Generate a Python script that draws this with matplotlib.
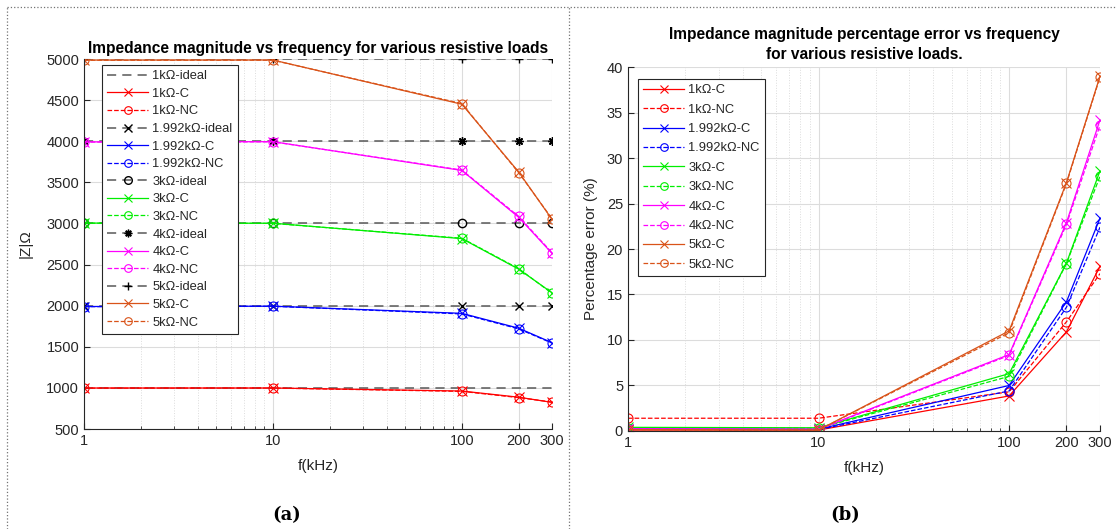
import numpy as np
import matplotlib.pyplot as plt
from matplotlib.lines import Line2D
from matplotlib.ticker import FixedLocator, NullFormatter, LogLocator

plt.rcParams['font.family'] = ['Liberation Sans', 'DejaVu Sans']

freq = [1, 10, 100, 200, 300]  # kHz

# measured |Z| (ohm), C = compensated, NC = not compensated
loads = ['1k', '1.992k', '3k', '4k', '5k']
ideal = [1000, 1992, 3000, 4000, 5000]
z1_c = [999, 999, 962, 887, 824]
z1_nc = [997, 998, 958, 882, 828]
z2_c = [1990, 1994, 1907, 1726, 1550]
z2_nc = [1988, 1993, 1900, 1718, 1545]
z3_c = [3005, 3003, 2816, 2444, 2157]
z3_nc = [3003, 3001, 2820, 2450, 2150]
z4_c = [3992, 3995, 3645, 3074, 2636]
z4_nc = [3990, 3993, 3650, 3085, 2645]
z5_c = [4987, 4988, 4450, 3625, 3050]
z5_nc = [4985, 4986, 4458, 3617, 3057]

# percentage error (%)
e1_c = [0.1, 0.1, 3.85, 10.9, 18.1]
e1_nc = [1.4, 1.4, 4.3, 12.0, 17.3]
e2_c = [0.25, 0.2, 5.0, 14.2, 23.4]
e2_nc = [0.2, 0.15, 4.4, 13.6, 22.4]
e3_c = [0.4, 0.35, 6.3, 18.45, 28.6]
e3_nc = [0.35, 0.3, 6.0, 18.4, 28.0]
e4_c = [0.25, 0.2, 8.4, 22.9, 34.2]
e4_nc = [0.2, 0.15, 8.3, 22.7, 33.6]
e5_c = [0.15, 0.1, 11.0, 27.3, 39.0]
e5_nc = [0.15, 0.1, 10.8, 27.2, 38.9]

z_c = [z1_c, z2_c, z3_c, z4_c, z5_c]
z_nc = [z1_nc, z2_nc, z3_nc, z4_nc, z5_nc]
e_c = [e1_c, e2_c, e3_c, e4_c, e5_c]
e_nc = [e1_nc, e2_nc, e3_nc, e4_nc, e5_nc]

colors = ['#FF0000', '#0000FF', '#00EE00', '#FF00FF', '#D95319']
ideal_markers = ['None', 'x', 'o', (8, 2, 0), '+']
txt = '#262626'

fig = plt.figure(figsize=(11.17, 5.29), dpi=100)
ax1 = fig.add_axes([0.0752, 0.189, 0.419, 0.6994])
ax2 = fig.add_axes([0.5622, 0.1853, 0.4226, 0.688])

mk = dict(markersize=6.5, markerfacecolor='none', markeredgewidth=0.8)

# (a) impedance magnitude
for i in range(5):
    ax1.plot(freq, [ideal[i]] * len(freq), '--', color='0.35', lw=1.1,
             marker=ideal_markers[i], markeredgecolor='k', markersize=6,
             markerfacecolor='none', dashes=(6, 4), label=loads[i] + 'Ω-ideal')
    ax1.plot(freq, z_c[i], '-', color=colors[i], lw=0.9, marker='x',
             label=loads[i] + 'Ω-C', **mk)
    ax1.plot(freq, z_nc[i], '--', color=colors[i], lw=0.9, marker='o',
             label=loads[i] + 'Ω-NC', **mk)

# (b) percentage error
for i in range(5):
    ax2.plot(freq, e_c[i], '-', color=colors[i], lw=0.9, marker='x',
             label=loads[i] + 'Ω-C', **mk)
    ax2.plot(freq, e_nc[i], '--', color=colors[i], lw=0.9, marker='o',
             label=loads[i] + 'Ω-NC', **mk)

for ax in (ax1, ax2):
    ax.set_xscale('log')
    ax.set_xlim(1, 300)
    ax.xaxis.set_major_locator(FixedLocator([1, 10, 100, 200, 300]))
    ax.set_xticklabels(['1', '10', '100', '200', '300'])
    ax.xaxis.set_minor_locator(LogLocator(subs=np.arange(2, 10), numticks=20))
    ax.xaxis.set_minor_formatter(NullFormatter())
    ax.grid(which='major', color='#DCDCDC', lw=0.8)
    ax.grid(which='minor', axis='x', color='#DCDCDC', lw=0.7, ls=':')
    ax.set_axisbelow(True)
    for s in ('top', 'right'):
        ax.spines[s].set_visible(False)
    for s in ('left', 'bottom'):
        ax.spines[s].set_color(txt)
        ax.spines[s].set_linewidth(0.8)
    ax.tick_params(which='both', direction='in', colors=txt, labelsize=10.5,
                   top=False, right=False)
    ax.tick_params(which='major', length=4)
    ax.tick_params(which='minor', length=2.5)
    ax.set_xlabel('f(kHz)', fontsize=11, color=txt, labelpad=8)

ax1.set_ylim(500, 5000)
ax1.set_yticks(np.arange(500, 5001, 500))
ax1.set_ylabel('|Z|Ω', fontsize=11, color=txt, labelpad=10)
ax1.set_title('Impedance magnitude vs frequency for various resistive loads',
              fontsize=11.2, fontweight='bold', pad=4)

ax2.set_ylim(0, 40)
ax2.set_yticks(np.arange(0, 41, 5))
ax2.set_ylabel('Percentage error (%)', fontsize=11, color=txt, labelpad=6)
ax2.set_title('Impedance magnitude percentage error vs frequency\nfor various resistive loads.',
              fontsize=11.2, fontweight='bold', pad=6, linespacing=1.35)

leg_kw = dict(loc='upper left', fontsize=9.3, frameon=True, fancybox=False,
              edgecolor='#262626', framealpha=1, handlelength=3.2,
              handletextpad=0.3, borderaxespad=0, borderpad=0.4)
l1 = ax1.legend(bbox_to_anchor=(18 / 468, 1 - 6 / 370), labelspacing=0.43, **leg_kw)
l2 = ax2.legend(bbox_to_anchor=(10 / 472, 1 - 12 / 364), labelspacing=0.57, **leg_kw)
for l in (l1, l2):
    l.get_frame().set_linewidth(0.8)
    for t in l.get_texts():
        t.set_color(txt)
    for h in l.get_lines():
        h.set_markersize(5.5)

fig.text(287 / 1117, 1 - 515 / 529, '(a)', family='DejaVu Serif', fontweight='bold',
         fontsize=13, ha='center', va='center')
fig.text(845 / 1117, 1 - 515 / 529, '(b)', family='DejaVu Serif', fontweight='bold',
         fontsize=13, ha='center', va='center')

# dotted panel frames
fig.add_artist(Line2D([0.0063, 1], [0.987, 0.987], ls=':', color='0.45', lw=0.9))
fig.add_artist(Line2D([0.0063, 0.0063], [0, 0.987], ls=':', color='0.45', lw=0.9))
fig.add_artist(Line2D([0.509, 0.509], [0, 0.987], ls=':', color='0.45', lw=0.9))

fig.savefig('out.png', dpi=100)
